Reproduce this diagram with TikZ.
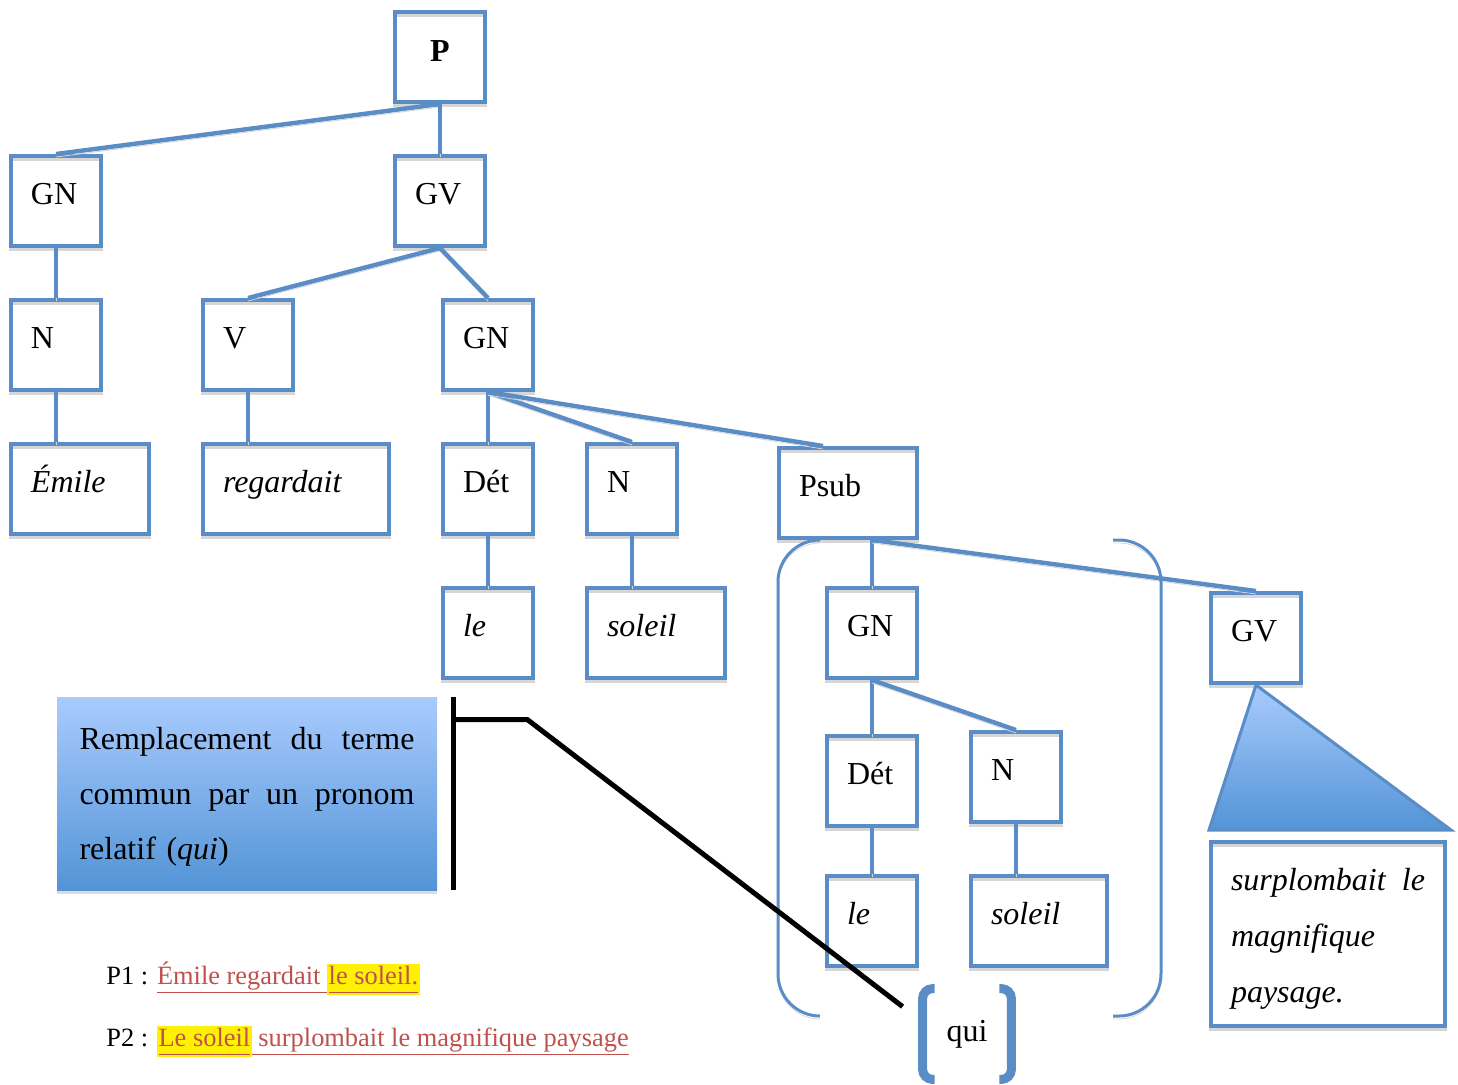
\documentclass[tikz,border=0pt]{standalone}
\usepackage{fontspec}
\setmainfont{Liberation Serif}
\usepackage{xcolor}
\usetikzlibrary{positioning,shadows}

\definecolor{boxblue}{HTML}{5A8DC6}
\definecolor{shadeTop}{HTML}{A9CBFE}
\definecolor{shadeBot}{HTML}{5394D6}
\definecolor{sentred}{HTML}{C0504D}
\newcommand{\redul}[1]{\underline{\vphantom{gp}#1}}
\newcommand{\hlyel}[1]{{\setlength{\fboxsep}{0.8pt}\colorbox{yellow}{#1}}}

\begin{document}
\begin{tikzpicture}[
  x=0.5pt, y=-0.5pt,
  font=\fontsize{16}{20}\selectfont,
  cat/.style={draw=boxblue, line width=2pt, minimum width=45pt, minimum height=45pt,
    inner xsep=10pt, inner ysep=0pt, text width=25pt, align=left,
    text height=0.7em, text depth=0.34em,
    drop shadow={shadow xshift=0pt, shadow yshift=-1.5pt, fill=none, draw=black!16, opacity=1}},
  wide/.style={text width=#1},
  lift/.style={preaction={draw=black!16, transform canvas={yshift=-1.5pt}}},
  link/.style={draw=boxblue, line width=2.2pt, lift},
  paren/.style={draw=boxblue, line width=1.5pt, rounded corners=21pt, lift},
  quibr/.style={draw=boxblue, line width=4.5pt, rounded corners=5pt},
  tri/.style={draw=boxblue, line width=1.5pt, top color=shadeTop, bottom color=shadeBot},
  callout/.style={shading=axis, top color=shadeTop, bottom color=shadeBot,
    minimum width=190pt, minimum height=96.5pt, inner xsep=11.25pt, text width=167.5pt,
    align=left, font=\fontsize{16}{27.5}\selectfont, text height=14pt,
    drop shadow={shadow xshift=0pt, shadow yshift=-2pt, fill=black!14, opacity=1}},
  pointer/.style={draw=black, line width=2.5pt},
  sent/.style={font=\fontsize{13.2}{16}\selectfont, anchor=base west, inner sep=0pt}
]
\useasboundingbox (0,0) rectangle (1458,1084);

% ── Main clause ──
\node[cat, align=center, text depth=0.3em, font=\fontsize{16}{20}\selectfont\bfseries] (p) at (440,57) {P};
\node[cat] (gnA) at (56,201) {GN};
\node[cat] (gv) at (440,201) {GV};

\node[cat] (nA) at (56,345) {N};
\node[cat] (v) at (248,345) {V};
\node[cat] (gnB) at (488,345) {GN};

\node[cat, wide=49pt] (emile) at (80,489) {\textit{Émile}};
\node[cat, wide=73pt] (regardait) at (296,489) {\textit{regardait}};
\node[cat] (detA) at (488,489) {Dét};
\node[cat] (nB) at (632,489) {N};
\node[cat, wide=49pt] (psub) at (848,493) {Psub};

\node[cat] (leA) at (488,633) {\textit{le}};
\node[cat, wide=49pt] (soleilA) at (656,633) {\textit{soleil}};

% ── Relative clause ──
\node[cat] (gnC) at (872,633) {GN};
\node[cat] (gvB) at (1256,638) {GV};
\node[cat] (detB) at (872,781) {Dét};
\node[cat] (nC) at (1016,777) {N};
\node[cat] (leB) at (872,921) {\textit{le}};
\node[cat, wide=48pt] (soleilB) at (1039,921) {\textit{soleil}};

\node[cat, wide=97pt, minimum height=92pt, text height=16pt, text depth=,
  font=\fontsize{16}{28}\selectfont\itshape] (gvtext) at (1328,934)
  {surplombait\hfill le\\ magnifique\\ paysage.};
\draw[tri] (gvB.south) -- ([yshift=5pt]gvtext.north west)
  -- ([xshift=2pt,yshift=5pt]gvtext.north east) -- cycle;

% ── Tree links ──
\draw[link] (p.south) -- (gnA.north);
\draw[link] (p.south) -- (gv.north);
\draw[link] (gnA.south) -- (nA.north);
\draw[link] (nA.south) -- (nA.south |- emile.north);
\draw[link] (gv.south) -- (v.north);
\draw[link] (gv.south) -- (gnB.north);
\draw[link] (v.south) -- (v.south |- regardait.north);
\draw[link] (gnB.south) -- (detA.north);
\draw[link] (gnB.south) -- (nB.north);
\draw[link] (gnB.south) -- ([xshift=23pt]psub.north west);
\draw[link] (detA.south) -- (leA.north);
\draw[link] (nB.south) -- (nB.south |- soleilA.north);
\draw[link] (gnC.north |- psub.south) -- (gnC.north);
\draw[link] (gnC.north |- psub.south) -- (gvB.north);
\draw[link] (gnC.south) -- (detB.north);
\draw[link] (gnC.south) -- (nC.north);
\draw[link] (detB.south) -- (leB.north);
\draw[link] (nC.south) -- (nC.south |- soleilB.north);

% ── Brackets round the subject of the relative clause ──
\draw[paren] (820,540) -- (778,540) -- (778,1016) -- (820,1016);
\draw[paren] (1113,540) -- (1161,540) -- (1161,1016) -- (1113,1016);

\node[inner sep=0pt, minimum width=44pt, minimum height=45pt] (qui) at (967,1034) {qui};
\draw[quibr] ([xshift=6pt]qui.north west) -- (qui.north west)
  -- (qui.south west) -- ([xshift=6pt]qui.south west);
\draw[quibr] ([xshift=-6pt]qui.north east) -- (qui.north east)
  -- (qui.south east) -- ([xshift=-6pt]qui.south east);

% ── Callout ──
\node[callout] (callout) at (247,793.5)
  {Remplacement\hfill du\hfill terme\\ commun\hfill par\hfill un\hfill pronom\\ relatif (\textit{qui})};
\coordinate (barT) at ([xshift=8pt]callout.north east);
\coordinate (barB) at ([xshift=8pt]callout.south east);
\draw[pointer] (barT) -- (barB);
\draw[pointer] ([yshift=-11.5pt]barT) -- ++(74,0) -- ([xshift=-10pt,yshift=-9pt]qui.north west);

% ── Sentences ──
\node[sent] (pA) at (106,984)
  {P1 : \textcolor{sentred}{\redul{Émile regardait }\hlyel{\redul{le soleil.}}}};
\node[sent] (pB) at (106,1046)
  {P2 : \textcolor{sentred}{\hlyel{\redul{Le soleil}}\redul{ surplombait le magnifique paysage}}};

\end{tikzpicture}
\end{document}
